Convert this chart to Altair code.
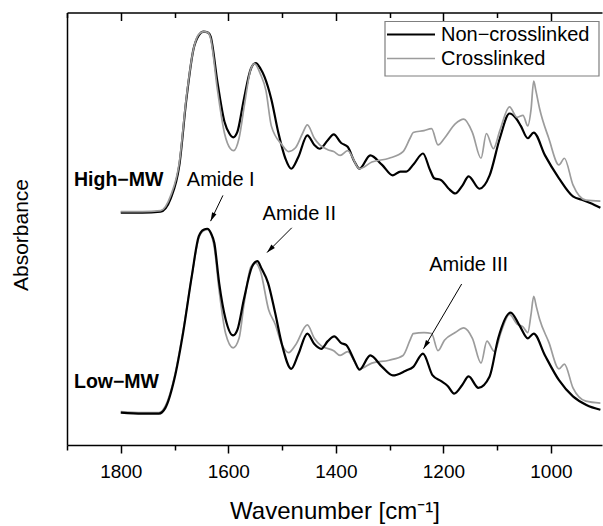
import altair as alt
import pandas as pd

FONT = "Liberation Sans"
SERIES = ["Non−crosslinked", "Crosslinked"]
SAMPLES = ["High−MW", "Low−MW"]
COLORS = ["#000000", "#9c9c9c"]
WIDTHS = [2.2, 1.7]

# ---- High-MW, non-crosslinked (black) ----
hb_wn = [1800, 1760, 1726, 1707, 1691, 1678, 1665, 1655, 1646, 1638,
         1633, 1620, 1607, 1598, 1591, 1583, 1571, 1558, 1549, 1540,
         1533, 1520, 1507, 1494, 1483, 1470, 1453, 1440, 1430, 1415,
         1404, 1390, 1378, 1365, 1356, 1336, 1314, 1294, 1280, 1269,
         1255, 1238, 1225, 1217, 1204, 1190, 1178, 1165, 1153, 1133,
         1114, 1095, 1077, 1065, 1056, 1043, 1032, 1011, 985, 959,
         940, 927, 908]
hb_abs = [2.44, 2.44, 2.45, 2.59, 2.94, 3.63, 4.15, 4.30, 4.34, 4.33,
          4.29, 3.80, 3.39, 3.27, 3.23, 3.29, 3.63, 3.95, 4.01, 3.95,
          3.87, 3.63, 3.28, 3.01, 2.90, 3.02, 3.25, 3.15, 3.11, 3.20,
          3.26, 3.17, 3.13, 2.97, 2.90, 3.04, 2.94, 2.83, 2.87, 2.87,
          2.95, 3.06, 2.89, 2.80, 2.78, 2.69, 2.64, 2.72, 2.82, 2.69,
          2.83, 3.22, 3.48, 3.43, 3.35, 3.22, 3.28, 3.04, 2.80, 2.61,
          2.57, 2.54, 2.49]

# ---- High-MW, crosslinked (grey) ----
hg_wn = [1800, 1760, 1726, 1707, 1691, 1678, 1665, 1655, 1646, 1638,
         1633, 1620, 1607, 1596, 1590, 1580, 1570, 1558, 1551, 1540,
         1530, 1520, 1500, 1488, 1475, 1462, 1453, 1440, 1430, 1415,
         1404, 1392, 1378, 1356, 1333, 1301, 1275, 1262, 1256, 1236,
         1222, 1210, 1198, 1178, 1162, 1146, 1130, 1120, 1107, 1095,
         1077, 1063, 1052, 1043, 1037, 1032, 1028, 1021, 1004, 985,
         975, 959, 935, 908]
hg_abs = [2.45, 2.45, 2.46, 2.62, 2.97, 3.65, 4.15, 4.31, 4.34, 4.33,
          4.27, 3.72, 3.27, 3.11, 3.09, 3.22, 3.57, 3.95, 4.00, 3.89,
          3.72, 3.35, 3.15, 3.08, 3.12, 3.27, 3.36, 3.22, 3.15, 3.10,
          3.08, 3.04, 3.09, 2.90, 2.97, 3.01, 3.08, 3.22, 3.28, 3.30,
          3.32, 3.15, 3.22, 3.37, 3.42, 3.28, 3.01, 3.27, 3.11, 3.30,
          3.55, 3.44, 3.46, 3.35, 3.52, 3.82, 3.72, 3.53, 3.22, 2.94,
          3.01, 2.73, 2.57, 2.56]

# ---- Low-MW, non-crosslinked (black) ----
lb_wn = [1800, 1760, 1729, 1717, 1700, 1684, 1668, 1655, 1646, 1639,
         1632, 1626, 1617, 1605, 1591, 1583, 1571, 1556, 1546, 1538,
         1526, 1513, 1500, 1483, 1470, 1453, 1440, 1427, 1415, 1403,
         1390, 1381, 1365, 1356, 1336, 1314, 1294, 1270, 1256, 1238,
         1220, 1204, 1192, 1180, 1165, 1153, 1135, 1114, 1098, 1075,
         1058, 1043, 1032, 1011, 985, 959, 934, 908]
lb_abs = [0.34, 0.33, 0.33, 0.39, 0.70, 1.18, 1.77, 2.19, 2.26, 2.27,
          2.22, 2.12, 1.70, 1.32, 1.15, 1.21, 1.53, 1.87, 1.93, 1.85,
          1.70, 1.39, 1.05, 0.80, 0.95, 1.17, 1.06, 1.01, 1.09, 1.14,
          1.07, 1.05, 0.88, 0.79, 0.94, 0.82, 0.73, 0.78, 0.82, 0.96,
          0.73, 0.67, 0.62, 0.54, 0.63, 0.72, 0.60, 0.72, 1.12, 1.39,
          1.25, 1.12, 1.17, 0.94, 0.68, 0.51, 0.42, 0.37]

# ---- Low-MW, crosslinked (grey) ----
lg_wn = [1800, 1760, 1729, 1717, 1700, 1684, 1668, 1655, 1646, 1639,
         1632, 1626, 1617, 1605, 1591, 1580, 1571, 1558, 1549, 1540,
         1525, 1513, 1500, 1488, 1475, 1453, 1440, 1427, 1404, 1392,
         1378, 1356, 1333, 1301, 1275, 1262, 1256, 1236, 1222, 1210,
         1198, 1178, 1162, 1146, 1130, 1119, 1105, 1093, 1077, 1063,
         1052, 1043, 1037, 1032, 1027, 1021, 1004, 985, 975, 959,
         935, 908]
lg_abs = [0.35, 0.34, 0.34, 0.41, 0.72, 1.20, 1.77, 2.17, 2.25, 2.26,
          2.21, 2.07, 1.62, 1.17, 1.02, 1.12, 1.47, 1.87, 1.91, 1.82,
          1.42, 1.27, 1.05, 0.97, 1.05, 1.26, 1.12, 1.04, 0.99, 0.94,
          0.98, 0.80, 0.86, 0.89, 0.94, 1.10, 1.17, 1.18, 1.17, 0.99,
          1.10, 1.18, 1.23, 1.12, 0.86, 1.09, 0.98, 1.18, 1.37, 1.27,
          1.24, 1.18, 1.37, 1.56, 1.45, 1.32, 1.08, 0.80, 0.85, 0.60,
          0.46, 0.44]

# ---- annotations ----
peak_labels = ["Amide I", "Amide II", "Amide III"]
label_wn = [1614, 1468, 1153]
label_abs = [2.78, 2.43, 1.89]
arrow_wn_start = [1610, 1482, 1166]
arrow_abs_start = [2.62, 2.28, 1.69]
arrow_wn_end = [1633, 1528, 1237]
arrow_abs_end = [2.35, 2.02, 1.01]
arrow_angle = [205, 224, 211]

sample_wn = [1887, 1887]
sample_abs = [2.78, 0.665]

# ---- tables ----
rows = []
for sample, series, wn, ab in [
    (SAMPLES[0], SERIES[0], hb_wn, hb_abs),
    (SAMPLES[0], SERIES[1], hg_wn, hg_abs),
    (SAMPLES[1], SERIES[1], lg_wn, lg_abs),
    (SAMPLES[1], SERIES[0], lb_wn, lb_abs),
]:
    for w, a in zip(wn, ab):
        rows.append({"wn": w, "absorbance": a, "series": series, "sample": sample})
spectra = pd.DataFrame(rows)

labels_df = pd.DataFrame({"label": peak_labels, "wn": label_wn, "absorbance": label_abs})
arrows_df = pd.DataFrame({
    "wn0": arrow_wn_start, "a0": arrow_abs_start,
    "wn1": arrow_wn_end, "a1": arrow_abs_end, "angle": arrow_angle,
})
samples_df = pd.DataFrame({"label": SAMPLES, "wn": sample_wn, "absorbance": sample_abs})

# ---- scales / axes ----
PLOT_W, PLOT_H = 535, 432.5
x_scale = alt.Scale(domain=[1900, 905], nice=False, zero=False)
y_scale = alt.Scale(domain=[0, 4.54], nice=False, zero=False)
tick_vals = list(range(1000, 1901, 100))
tick_size = {"condition": {"test": "datum.value % 200 === 0", "value": 8}, "value": 5}

x_axis_bottom = alt.Axis(
    values=tick_vals, format="d",
    labelExpr="datum.value % 200 === 0 ? datum.label : ''",
    tickSize=tick_size, tickWidth=1.5, domainWidth=1.5,
    labelFontSize=19, labelPadding=9,
    title="Wavenumber [cm⁻¹]", titleFontSize=24, titleFontWeight="normal",
    titlePadding=18,
)
x_axis_top = alt.Axis(
    orient="bottom", offset=-PLOT_H, values=tick_vals, labels=False,
    tickSize=tick_size, tickWidth=1.5, domainWidth=1.5, title=None,
)
y_axis = alt.Axis(
    title="Absorbance", labels=False, ticks=False, domain=True, domainWidth=1.5,
    titleFontSize=21, titleFontWeight="normal", titlePadding=36, titleY=222,
)

base = alt.Chart(spectra)

lines = base.mark_line(interpolate="monotone").encode(
    x=alt.X("wn:Q", scale=x_scale, axis=x_axis_bottom),
    y=alt.Y("absorbance:Q", scale=y_scale, axis=y_axis),
    color=alt.Color("series:N", scale=alt.Scale(domain=SERIES, range=COLORS), legend=None),
    strokeWidth=alt.StrokeWidth("series:N", scale=alt.Scale(domain=SERIES, range=WIDTHS), legend=None),
    detail="sample:N",
)

top_axis = base.mark_line(opacity=0).encode(
    x=alt.X("wn:Q", scale=x_scale, axis=x_axis_top),
    y=alt.Y("absorbance:Q", scale=y_scale, axis=None),
    detail="sample:N",
)

peak_text = alt.Chart(labels_df).mark_text(font=FONT, fontSize=20, color="black").encode(
    x=alt.X("wn:Q", scale=x_scale, axis=None),
    y=alt.Y("absorbance:Q", scale=y_scale, axis=None),
    text="label:N",
)

arrow_lines = alt.Chart(arrows_df).mark_rule(color="black", strokeWidth=1).encode(
    x=alt.X("wn0:Q", scale=x_scale, axis=None),
    y=alt.Y("a0:Q", scale=y_scale, axis=None),
    x2="wn1:Q", y2="a1:Q",
)

arrow_heads = alt.Chart(arrows_df).mark_point(
    shape="M0,0L-0.6,2.2L0.6,2.2Z", filled=True, color="black", opacity=1, size=64,
).encode(
    x=alt.X("wn1:Q", scale=x_scale, axis=None),
    y=alt.Y("a1:Q", scale=y_scale, axis=None),
    angle=alt.Angle("angle:Q", scale=None),
)

sample_text = alt.Chart(samples_df).mark_text(
    font=FONT, fontSize=19.5, fontWeight="bold", color="black", align="left",
).encode(
    x=alt.X("wn:Q", scale=x_scale, axis=None),
    y=alt.Y("absorbance:Q", scale=y_scale, axis=None),
    text="label:N",
)

# ---- legend (drawn as a boxed key in the upper right) ----
legend_box = alt.Chart(pd.DataFrame({"k": [0]})).mark_rect(
    fill="white", stroke="#7f7f7f", strokeWidth=1.2,
).encode(x=alt.value(318), x2=alt.value(532), y=alt.value(9), y2=alt.value(63.5))

legend_layers = []
for i, (name, col, wd) in enumerate(zip(SERIES, COLORS, WIDTHS)):
    row_y = 22 + 24 * i
    src = alt.Chart(pd.DataFrame({"series": [name]}))
    legend_layers.append(
        src.mark_rule(color=col, strokeWidth=wd).encode(
            x=alt.value(320), x2=alt.value(368), y=alt.value(row_y)
        )
    )
    legend_layers.append(
        src.mark_text(font=FONT, fontSize=20, color="black", align="left", baseline="middle").encode(
            x=alt.value(374), y=alt.value(row_y), text="series:N"
        )
    )

chart = alt.layer(
    lines, top_axis, arrow_lines, arrow_heads, peak_text, sample_text,
    legend_box, *legend_layers,
).resolve_axis(x="independent", y="independent").properties(
    width=PLOT_W, height=PLOT_H,
    padding={"left": 67, "top": 12.5, "right": 1, "bottom": 81},
    autosize=alt.AutoSizeParams(type="none"),
    background="white",
).configure_view(stroke=None).configure_axis(
    labelFont=FONT, titleFont=FONT, domainColor="black", tickColor="black",
    labelColor="black", titleColor="black", grid=False,
)

chart.save("out.html", embed_options={"renderer": "svg", "actions": False})
